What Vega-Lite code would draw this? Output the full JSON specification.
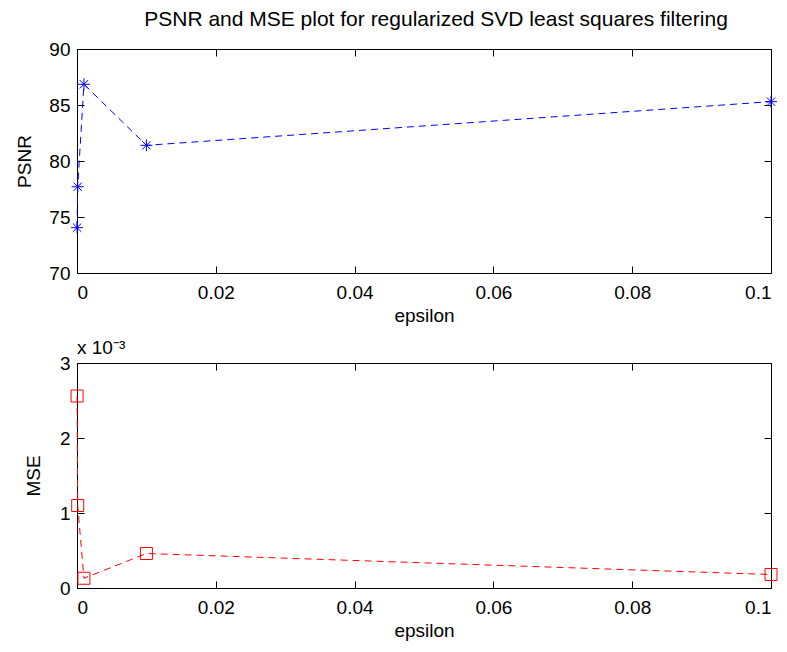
{
  "$schema": "https://vega.github.io/schema/vega-lite/v6.json",
  "autosize": {"type": "pad"},
  "padding": {"left": 15, "top": 8, "right": 5, "bottom": 5},
  "background": "white",
  "config": {
    "font": "Liberation Sans",
    "view": {"stroke": "black", "strokeWidth": 1},
    "axis": {
      "domain": false,
      "grid": false,
      "tickColor": "black",
      "tickSize": -7,
      "labelColor": "black",
      "labelFontSize": 19,
      "labelFont": "Liberation Sans",
      "titleFont": "Liberation Sans",
      "titleFontWeight": "normal",
      "titleFontSize": 19,
      "titleColor": "black"
    }
  },
  "datasets": {
    "d": [
      {"epsilon": 0.00001, "psnr": 74.05, "mse": 0.00256},
      {"epsilon": 0.0001, "psnr": 77.7, "mse": 0.0011},
      {"epsilon": 0.001, "psnr": 86.85, "mse": 0.00013},
      {"epsilon": 0.01, "psnr": 81.4, "mse": 0.00046},
      {"epsilon": 0.1, "psnr": 85.3, "mse": 0.00018}
    ]
  },
  "spacing": 90,
  "bounds": "flush",
  "vconcat": [
    {
      "width": 694,
      "height": 224,
      "title": {"text": "PSNR and MSE plot for regularized SVD least squares filtering", "fontSize": 21, "fontWeight": "normal", "font": "Liberation Sans", "anchor": "middle", "frame": "group", "offset": 10, "dx": 12, "color": "black"},
      "data": {"name": "d"},
      "layer": [
        {
          "mark": {"type": "line", "color": "#0000ff", "strokeDash": [7, 5], "strokeWidth": 1},
          "encoding": {
            "x": {"field": "epsilon", "type": "quantitative", "scale": {"domain": [0, 0.1], "nice": false}, "axis": {"values": [0, 0.02, 0.04, 0.06, 0.08, 0.1], "format": "~g", "title": "epsilon", "labelPadding": 17, "titlePadding": 4}},
            "y": {"field": "psnr", "type": "quantitative", "scale": {"domain": [70, 90], "nice": false, "zero": false}, "axis": {"values": [70, 75, 80, 85, 90], "title": "PSNR", "labelPadding": 14, "titlePadding": 14}}
          }
        },
        {
          "mark": {"type": "point", "shape": "M-1,0L1,0M0,-1L0,1M-0.7,-0.7L0.7,0.7M-0.7,0.7L0.7,-0.7", "filled": false, "color": "#0000ff", "size": 144, "strokeWidth": 1, "opacity": 1},
          "encoding": {
            "x": {"field": "epsilon", "type": "quantitative", "axis": {"orient": "top", "labels": false, "title": null, "values": [0, 0.02, 0.04, 0.06, 0.08, 0.1]}},
            "y": {"field": "psnr", "type": "quantitative", "axis": {"orient": "right", "labels": false, "title": null, "values": [70, 75, 80, 85, 90]}}
          }
        }
      ],
      "resolve": {"axis": {"x": "independent", "y": "independent"}}
    },
    {
      "width": 694,
      "height": 225,
      "title": {"text": "x 10⁻³", "fontSize": 19, "fontWeight": "normal", "font": "Liberation Sans", "anchor": "start", "frame": "group", "offset": -4, "color": "black"},
      "data": {"name": "d"},
      "layer": [
        {
          "mark": {"type": "line", "color": "#ff0000", "strokeDash": [7, 5], "strokeWidth": 1},
          "encoding": {
            "x": {"field": "epsilon", "type": "quantitative", "scale": {"domain": [0, 0.1], "nice": false}, "axis": {"values": [0, 0.02, 0.04, 0.06, 0.08, 0.1], "format": "~g", "title": "epsilon", "labelPadding": 17, "titlePadding": 4}},
            "y": {"field": "mse", "type": "quantitative", "scale": {"domain": [0, 0.003], "nice": false}, "axis": {"values": [0, 0.001, 0.002, 0.003], "labelExpr": "format(round(datum.value*1000),'d')", "title": "MSE", "labelPadding": 14, "titlePadding": 16}}
          }
        },
        {
          "mark": {"type": "point", "shape": "square", "filled": false, "color": "#ff0000", "size": 144, "strokeWidth": 1, "opacity": 1},
          "encoding": {
            "x": {"field": "epsilon", "type": "quantitative", "axis": {"orient": "top", "labels": false, "title": null, "values": [0, 0.02, 0.04, 0.06, 0.08, 0.1]}},
            "y": {"field": "mse", "type": "quantitative", "axis": {"orient": "right", "labels": false, "title": null, "values": [0, 0.001, 0.002, 0.003]}}
          }
        }
      ],
      "resolve": {"axis": {"x": "independent", "y": "independent"}}
    }
  ]
}
